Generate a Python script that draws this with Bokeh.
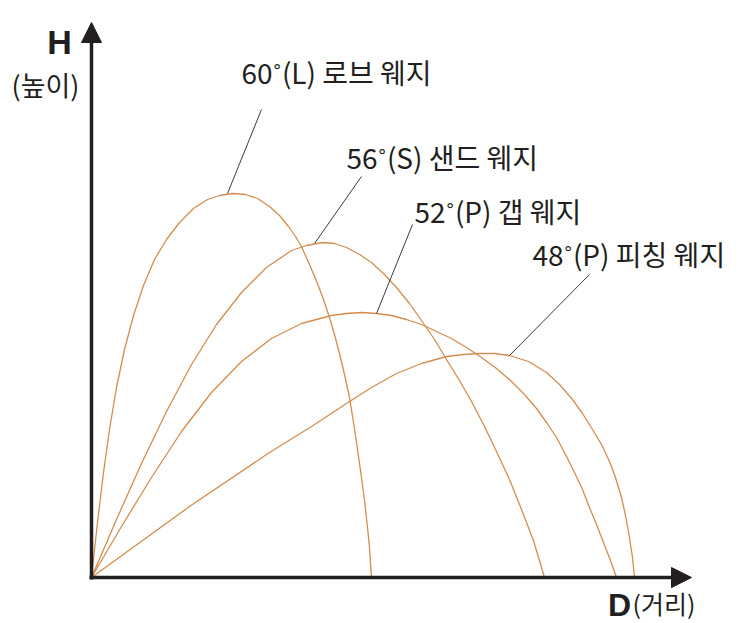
from bokeh.plotting import figure
from bokeh.models import Range1d, Arrow, NormalHead, ColumnDataSource
from bokeh.core.properties import value
from bokeh.embed import file_html
from bokeh.resources import INLINE

# trajectories (D = distance, H = height, same units)
d60 = [0, 6, 12, 18, 25, 33, 42, 52, 63, 75, 88, 102, 116, 128, 141,
       154, 166, 178, 188, 197, 204, 210, 218, 226, 232, 238, 243, 248, 253, 258, 262, 266, 270, 273, 276, 278, 280]
h60 = [0, 55, 105, 148, 190, 228, 262, 292, 318, 338, 355, 369, 378, 382, 384,
       383, 379, 371, 362, 351, 341, 331, 313, 294, 278, 260, 243, 224, 203, 180, 155, 128, 100, 77, 50, 30, 0]

d56 = [0, 25, 50, 75, 100, 125, 150, 175, 200, 215, 231, 243, 255, 268, 280, 293, 305, 318, 330, 343, 355,
       368, 380, 393, 405, 418, 430, 442, 453]
h56 = [0, 58, 114, 166, 213, 253, 285, 310, 327, 332, 335, 334, 330, 323, 315, 303, 290, 274, 257, 238, 218,
       197, 176, 151, 126, 98, 68, 37, 0]

d52 = [0, 30, 60, 90, 120, 150, 180, 210, 240, 255, 270, 285, 300, 315, 330, 345, 360, 375, 390, 405,
       420, 433, 445, 455, 465, 474, 483, 491, 498, 505, 512, 519, 525]
h52 = [0, 51, 100, 146, 185, 216, 239, 254, 262, 264, 265, 264, 262, 258, 253, 246, 239, 230, 220, 209,
       196, 183, 169, 155, 140, 123, 105, 88, 70, 53, 35, 17, 0]

d48 = [0, 98, 178, 220, 255, 280, 305, 330, 355, 372, 388, 403, 418, 437, 455, 468, 481, 491, 501, 510,
       518, 524, 530, 534, 538, 541, 543]
h48 = [0, 71, 125, 151, 174, 190, 204, 214, 221, 223, 224, 224, 222, 216, 205, 193, 178, 164, 148, 133,
       116, 100, 80, 62, 40, 20, 0]

labels = ["60˚(L) 로브 웨지", "56˚(S) 샌드 웨지", "52˚(P) 갭 웨지", "48˚(P) 피칭 웨지"]
# where each leader line touches its curve
touch_d = [136, 223, 285, 418]
touch_h = [384, 334, 264, 222]
# label anchors (left / middle of the text)
label_d = [150, 255, 323, 441]
label_h = [506, 421, 367, 324]
# upper end of the leader lines
lead_d = [170, 270, 321, 498]
lead_h = [468, 401, 353, 303]

x_end = 600  # tip of the D arrow
y_end = 555  # tip of the H arrow

curve_color = "#d48d4f"
ink = "#231f20"
kr = value("Noto Sans CJK KR")

p = figure(width=745, height=621, output_backend="svg", toolbar_location=None,
           x_range=Range1d(-91, 654), y_range=Range1d(-44, 577),
           x_axis_type=None, y_axis_type=None, min_border=0)
p.grid.visible = False
p.outline_line_color = None
p.background_fill_color = "white"
p.border_fill_color = "white"

for d, h in [(d60, h60), (d56, h56), (d52, h52), (d48, h48)]:
    p.line(d, h, line_color=curve_color, line_width=1.3, line_join="round")

p.segment(x0=touch_d, y0=touch_h, x1=lead_d, y1=lead_h, line_color="#3c3c3c", line_width=1)

src = ColumnDataSource(data=dict(x=label_d, y=label_h, t=labels))
p.text(x="x", y="y", text="t", source=src, text_font=kr, text_font_size="28px",
       text_color=ink, text_baseline="middle", text_align="left")

# axes with arrow heads
p.add_layout(Arrow(end=NormalHead(size=20, fill_color=ink, line_color=ink),
                   x_start=0, y_start=-2, x_end=0, y_end=y_end, line_width=3.5, line_color=ink))
p.add_layout(Arrow(end=NormalHead(size=20, fill_color=ink, line_color=ink),
                   x_start=-2, y_start=0, x_end=x_end, y_end=0, line_width=3.5, line_color=ink))

p.text(x=[-32], y=[536], text=["H"], text_font=value("Liberation Sans"), text_font_style="bold",
       text_font_size="34px", text_color=ink, text_baseline="middle", text_align="center")
p.text(x=[-46], y=[493], text=["(높이)"], text_font=kr, text_font_size="27px",
       text_color=ink, text_baseline="middle", text_align="center")
p.text(x=[528], y=[-27], text=["D"], text_font=value("Liberation Sans"), text_font_style="bold",
       text_font_size="32px", text_color=ink, text_baseline="middle", text_align="center")
p.text(x=[541], y=[-25], text=["(거리)"], text_font=kr, text_font_size="25px",
       text_color=ink, text_baseline="middle", text_align="left")

open("out.html", "w").write(file_html(p, INLINE))
